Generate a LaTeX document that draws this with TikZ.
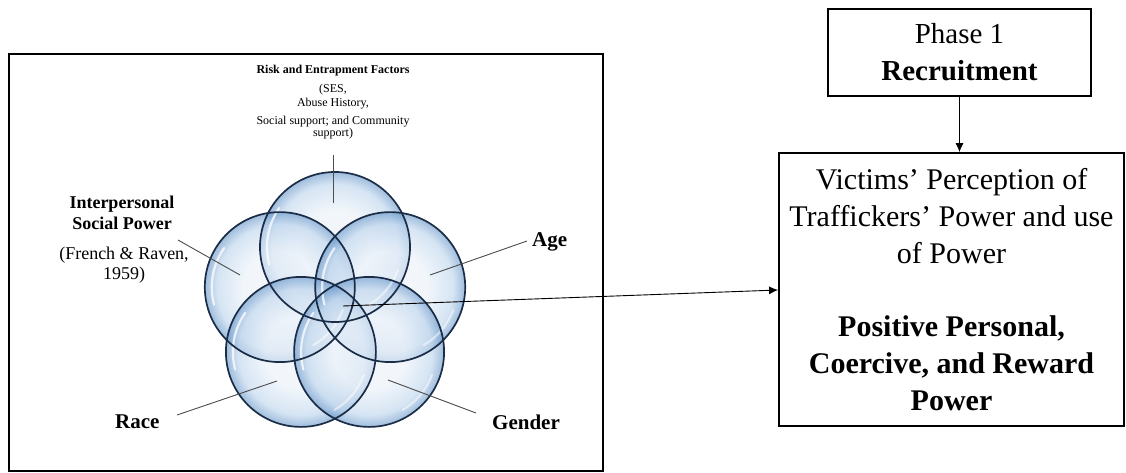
\documentclass[tikz,border=0pt]{standalone}
\usepackage{fontspec}
\setmainfont{Liberation Serif}
\usetikzlibrary{arrows.meta}
\definecolor{bIn}{HTML}{EAF1F9}
\definecolor{bMid}{HTML}{BCD4EC}
\definecolor{bOut}{HTML}{6494C8}
\definecolor{rim}{HTML}{1A2C46}
\pgfdeclareradialshading{bubble}{\pgfpoint{0bp}{0bp}}{%
  color(0bp)=(bIn); color(12bp)=(bIn); color(21bp)=(bMid);
  color(25bp)=(bOut); color(50bp)=(bOut)}
\newcommand{\fs}[2]{\fontsize{#1}{#2}\selectfont}
\begin{document}
\begin{tikzpicture}[x=1pt,y=-1pt,
  frame/.style={draw=black, line width=1.8pt},
  leader/.style={draw=black!70, line width=0.9pt},
  arr/.style={draw=black, line width=0.9pt, -{Latex[length=9pt,width=8pt]}},
  bubblefill/.style={shading=bubble, fill opacity=0.62},
  bubblerim/.style={draw=rim, line width=1.7pt},
  glint/.style={draw=white, line width=2.2pt, opacity=0.75, line cap=round},
  lbl/.style={inner sep=0pt, anchor=base},
  boxtext/.style={draw=black, line width=1.8pt, inner sep=0pt, align=center}]
\useasboundingbox (0,0) rectangle (1126,473);

% outer frame of the factor diagram
\node[frame, draw, inner sep=0pt, minimum width=594pt, minimum height=417pt,
      anchor=north west] (panel) at (8,53) {};

% five overlapping bubbles
\coordinate (cT)  at (335,247);
\coordinate (cL)  at (279.8,287.1);
\coordinate (cR)  at (390.2,287.1);
\coordinate (cBL) at (300.9,351.9);
\coordinate (cBR) at (369.1,351.9);
\foreach \c in {cT,cL,cR,cBL,cBR}
  \shade[bubblefill] (\c) circle[radius=75];
\foreach \c in {cT,cL,cR,cBL,cBR}{
  \draw[glint] (\c) ++(165:68) arc[start angle=165, end angle=215, radius=68];
  \draw[glint, opacity=0.5] (\c) ++(20:67) arc[start angle=20, end angle=60, radius=67];
}
\foreach \c in {cT,cL,cR,cBL,cBR}
  \draw[bubblerim] (\c) circle[radius=75];

% risk factors heading
\node[lbl, font=\fs{12}{14}\bfseries] (risk) at (333,74) {Risk and Entrapment Factors};
\node[lbl, font=\fs{12}{14}] (ses) at (333,93) {(SES,};
\node[lbl, font=\fs{12}{14}] (abuse) at (333,107) {Abuse History,};
\node[lbl, font=\fs{12}{14}] (social) at (333,125) {Social support; and Community};
\node[lbl, font=\fs{12}{14}] (supp) at (333,137) {support)};
\coordinate (riskEnd) at (333,155);
\coordinate (riskIn) at (333,203);
\draw[leader] (riskEnd) -- (riskIn);

% interpersonal social power
\node[lbl, font=\fs{18}{21}\bfseries] (inter) at (122,208) {Interpersonal};
\node[lbl, font=\fs{18}{21}\bfseries] (socpow) at (122,229) {Social Power};
\node[lbl, font=\fs{18}{21}] (french) at (124,259) {(French \& Raven,};
\node[lbl, font=\fs{18}{21}] (year) at (124,279) {1959)};
\coordinate (interEnd) at (178,240);
\coordinate (interIn) at (240,275);
\draw[leader] (interEnd) -- (interIn);

% age
\node[lbl, font=\fs{21}{24}\bfseries, anchor=base west] (age) at (532,246) {Age};
\coordinate (ageEnd) at (527,241);
\coordinate (ageIn) at (430,275);
\draw[leader] (ageEnd) -- (ageIn);

% race
\node[lbl, font=\fs{21}{24}\bfseries, anchor=base west] (race) at (115,428) {Race};
\coordinate (raceEnd) at (177,415);
\coordinate (raceIn) at (277,381);
\draw[leader] (raceEnd) -- (raceIn);

% gender
\node[lbl, font=\fs{21}{24}\bfseries, anchor=base west] (gender) at (492,429) {Gender};
\coordinate (genderEnd) at (476,413);
\coordinate (genderIn) at (388,380);
\draw[leader] (genderEnd) -- (genderIn);

% phase and perception boxes
\node[boxtext, minimum width=263pt, minimum height=87pt, font=\fs{29}{37}]
  (phase) at (959.5,52.5) {Phase 1\\\textbf{Recruitment}};
\node[boxtext, minimum width=345pt, minimum height=273pt, font=\fs{30}{36.7}]
  (percep) at (951.5,289.5)
  {Victims' Perception of\\Traffickers' Power and use\\of Power\\[36.7pt]
   \textbf{Positive Personal,}\\\textbf{Coercive, and Reward}\\\textbf{Power}};

% connectors
\coordinate (core) at (343,306);
\draw[arr] (phase.south) -- (phase.south |- percep.north);
\draw[arr] (core) -- (percep.west |- 0,290);
\end{tikzpicture}
\end{document}
